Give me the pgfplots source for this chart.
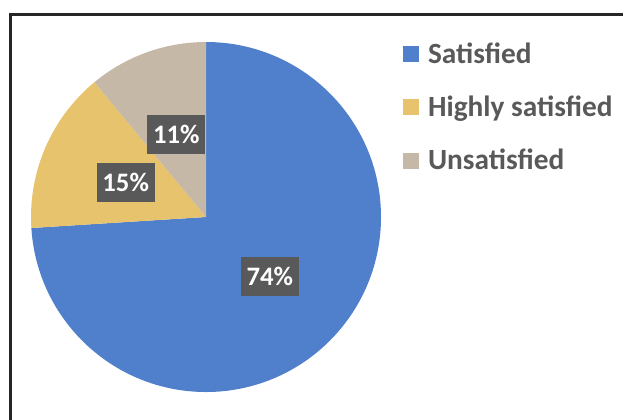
\documentclass[border=0pt]{standalone}
\usepackage{pgfplots}
\pgfplotsset{compat=1.18}
\usepackage{pgfplotstable}
\usepackage{fontspec}
\setmainfont{Carlito}

\definecolor{satblue}{HTML}{5080CB}
\definecolor{highgold}{HTML}{E6C36C}
\definecolor{unsatgrey}{HTML}{C6B8A6}
\definecolor{labelgrey}{HTML}{595959}
\definecolor{legtext}{HTML}{595959}

\tikzset{labnode/.style={fill=labelgrey, text=white, font=\fontsize{20}{20}\selectfont\bfseries,
    minimum width=43.5pt, minimum height=29.25pt, inner sep=0pt}}

% shares in percent, clockwise from 12 o'clock
\pgfplotstableread{
label share
Satisfied 74
Highly 15
Unsatisfied 11
}\piedata

\begin{document}
\begin{tikzpicture}
\useasboundingbox (0,0) rectangle (467.25pt,314.25pt);
\pgfplotstablegetelem{0}{share}\of\piedata \let\va\pgfplotsretval
\pgfplotstablegetelem{1}{share}\of\piedata \let\vb\pgfplotsretval
\pgfplotstablegetelem{2}{share}\of\piedata \let\vc\pgfplotsretval
\pgfmathsetmacro\aA{90}
\pgfmathsetmacro\aB{\aA-3.6*\va}
\pgfmathsetmacro\aC{\aB-3.6*\vb}
\pgfmathsetmacro\aD{\aC-3.6*\vc}
% label positions at half radius on the mid angle (pixel units, y down)
\def\cx{206}\def\cy{217}\def\lr{87.5}
\pgfmathsetmacro\xA{\cx+\lr*cos((\aA+\aB)/2)}\pgfmathsetmacro\yA{\cy-\lr*sin((\aA+\aB)/2)}
\pgfmathsetmacro\xB{\cx+\lr*cos((\aB+\aC)/2)}\pgfmathsetmacro\yB{\cy-\lr*sin((\aB+\aC)/2)}
\pgfmathsetmacro\xC{\cx+\lr*cos((\aC+\aD)/2)}\pgfmathsetmacro\yC{\cy-\lr*sin((\aC+\aD)/2)}
\def\R{131.25pt}
\begin{axis}[
  scale only axis, width=467.25pt, height=314.25pt,
  xmin=0, xmax=623, ymin=0, ymax=419, y dir=reverse,
  hide axis, clip=false,
  legend image code/.code={\fill[#1, draw=none] (0pt,-6pt) rectangle (12pt,6pt);},
  legend cell align=left,
  legend style={draw=none, fill=none, at={(axis description cs:0.646,0.905)}, anchor=north west,
    font=\fontsize{22}{26}\selectfont\bfseries, text=legtext, row sep=19pt,
    inner sep=0pt, /tikz/every odd column/.append style={column sep=5pt}},
]
\addlegendimage{fill=satblue}\addlegendentry{Satisfied}
\addlegendimage{fill=highgold}\addlegendentry{Highly satisfied}
\addlegendimage{fill=unsatgrey}\addlegendentry{Unsatisfied}

\fill[satblue] (axis cs:\cx,\cy) -- ++(\aA:\R) arc[start angle=\aA, end angle=\aB, radius=\R] -- cycle;
\fill[highgold] (axis cs:\cx,\cy) -- ++(\aB:\R) arc[start angle=\aB, end angle=\aC, radius=\R] -- cycle;
\fill[unsatgrey] (axis cs:\cx,\cy) -- ++(\aC:\R) arc[start angle=\aC, end angle=\aD, radius=\R] -- cycle;

\node[labnode] at (axis cs:\xA,\yA) {\va\%};
\node[labnode] at (axis cs:\xB,\yB) {\vb\%};
\node[labnode] at (axis cs:\xC,\yC) {\vc\%};

\draw[line width=2.25pt, color=black!85, line join=miter] (axis cs:10.5,425) -- (axis cs:10.5,14) -- (axis cs:630,14);
\end{axis}
\end{tikzpicture}
\end{document}
